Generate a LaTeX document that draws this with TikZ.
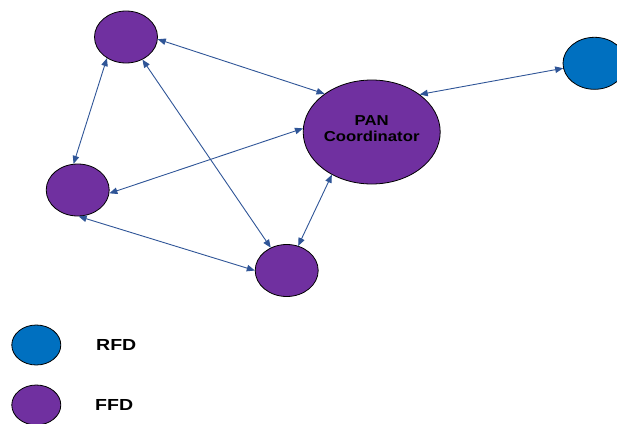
\documentclass[tikz,border=0pt]{standalone}
\usepackage{fontspec}
\usepackage{graphicx}
\setmainfont{Liberation Sans}
\usetikzlibrary{shapes.geometric,arrows.meta}
\definecolor{ffdpurple}{HTML}{7030A0}
\definecolor{rfdblue}{HTML}{0070C0}
\definecolor{linkblue}{HTML}{2F5597}
\newcommand{\wide}[2]{\scalebox{#1}[1]{#2}}
\tikzset{
  device/.style={ellipse, draw=black, line width=0.8pt, inner sep=0pt,
    minimum width=63pt, minimum height=52pt},
  ffd/.style={device, fill=ffdpurple},
  rfd/.style={device, fill=rfdblue},
  link/.style={draw=linkblue, line width=0.9pt,
    {Triangle[length=8pt,width=6.5pt]}-{Triangle[length=8pt,width=6.5pt]}},
  legendtext/.style={anchor=base west, inner sep=0pt,
    font=\fontsize{16}{19}\selectfont\bfseries}
}
\begin{document}
\begin{tikzpicture}[x=1pt,y=-1pt]
  \useasboundingbox (0,0) rectangle (617,423);

  % network devices
  \node[ffd] (tl) at (126,37) {};
  \node[ffd] (lf) at (77.7,190) {};
  \node[ffd] (bt) at (286.7,270.5) {};
  \node[ffd, minimum width=137pt, minimum height=104pt,
        label={[align=center, inner sep=0pt, yshift=3.5pt,
                font=\fontsize{14.4}{16.7}\selectfont\bfseries]center:%
                \wide{1.16}{PAN}\\[-0.5pt]\wide{1.16}{Coordinator}}]
        (pan) at (371.7,132) {};
  \node[rfd] (rfd) at (594.5,63.3) {};

  % links
  \draw[link] (tl.-4) -- (pan.141);
  \draw[link] (tl.228) -- (lf.99);
  \draw[link] (tl.-54) -- (bt.125);
  \draw[link] (pan.177.5) -- (lf.-6);
  \draw[link] (pan.227) -- (bt.65);
  \draw[link] (lf.-88) -- (bt.180);
  \draw[link] (pan.38) -- (rfd.189);

  % legend
  \node[rfd, minimum width=49pt, minimum height=40pt] (keyrfd) at (36.3,345) {};
  \node[ffd, minimum width=49pt, minimum height=40pt] (keyffd) at (36.3,405) {};
  \node[legendtext] (lblrfd) at (96,350) {\wide{1.22}{RFD}};
  \node[legendtext] (lblffd) at (95,410) {\wide{1.22}{FFD}};
\end{tikzpicture}
\end{document}
